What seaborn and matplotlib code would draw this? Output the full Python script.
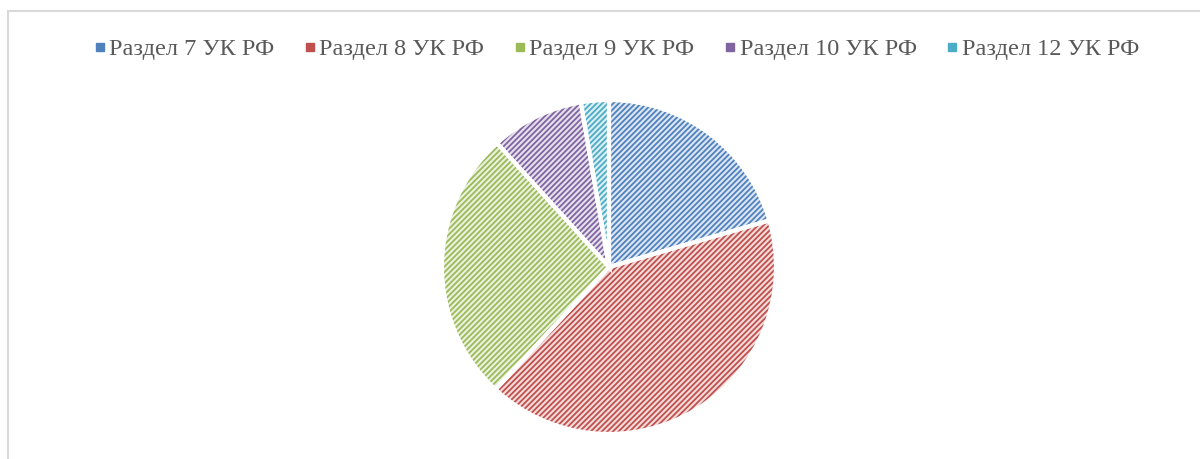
import matplotlib.pyplot as plt
import seaborn as sns
from matplotlib.lines import Line2D

labels = ["Раздел 7 УК РФ", "Раздел 8 УК РФ", "Раздел 9 УК РФ", "Раздел 10 УК РФ", "Раздел 12 УК РФ"]
shares = [20.5, 41.4, 26.4, 9.0, 2.7]
colors = ["#4F81BD", "#C0504D", "#9BBB59", "#8064A2", "#4BACC6"]

sns.set_theme(style="white")
plt.rcParams['font.family'] = ['Liberation Serif', 'DejaVu Serif']
plt.rcParams['hatch.linewidth'] = 1.3

fig = plt.figure(figsize=(12, 4.59), dpi=100)
ax = fig.add_axes([442 / 1200, 25 / 459, 334 / 1200, 334 / 459])

tints = [sns.blend_palette(["white", c], 6)[1] for c in colors]

# hatched fill first, hatch colour follows edgecolor
wedges, _ = ax.pie(shares, colors=tints, startangle=90, counterclock=False,
                   wedgeprops=dict(linewidth=0))
for w, c in zip(wedges, colors):
    w.set_edgecolor(c)
    w.set_linewidth(0)
    w.set_hatch("//////")

# white separators on top
ax.pie(shares, colors=["none"] * len(shares), startangle=90, counterclock=False,
       wedgeprops=dict(linewidth=3, edgecolor="white", fill=False))
ax.set_xlim(-1.0, 1.0)
ax.set_ylim(-1.0, 1.0)
ax.set_aspect("equal")
ax.axis("off")

handles = [Line2D([], [], marker="s", linestyle="none", markersize=5.5,
                  markerfacecolor=c, markeredgecolor=c) for c in colors]
fig.legend(handles, labels, loc="center", bbox_to_anchor=(615 / 1200, 1 - 49 / 459),
           ncol=5, frameon=False, fontsize=17.5, labelcolor="#595959",
           handletextpad=0.05, columnspacing=1.1, handlelength=0.7)

# frame remnants (left and top lines)
fig.add_artist(Line2D([7.5 / 1200, 7.5 / 1200], [0, 1 - 10.5 / 459],
                      transform=fig.transFigure, color="#D9D9D9", linewidth=1.5))
fig.add_artist(Line2D([7.5 / 1200, 1], [1 - 10.5 / 459, 1 - 10.5 / 459],
                      transform=fig.transFigure, color="#D9D9D9", linewidth=1.5))

fig.savefig("out.png", dpi=100)
